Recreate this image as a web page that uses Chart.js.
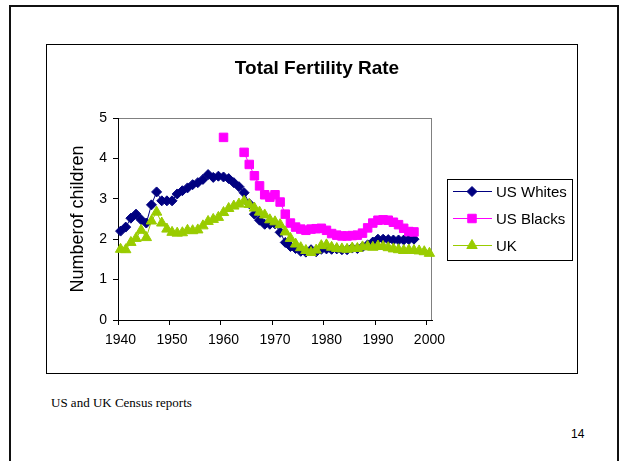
<!DOCTYPE html>
<html>
<head>
<meta charset="utf-8">
<script src="https://cdn.jsdelivr.net/npm/chart.js@4.4.0/dist/chart.umd.min.js"></script>
<style>
  body { margin: 0; width: 620px; height: 461px; background: #fff; position: relative; overflow: hidden; }
  #slide { position: absolute; left: 9px; top: 5px; width: 610px; height: 500px; border: 2px solid #111; box-sizing: border-box; }
  #frame { position: absolute; left: 46px; top: 44px; width: 532px; height: 330px; border: 1px solid #000; box-sizing: border-box; }
  #chart { position: absolute; left: 0; top: 0; }
  #source { position: absolute; left: 51px; top: 395px; font: 13px "Liberation Serif", "Times New Roman", serif; color: #000; }
  #page { position: absolute; left: 571px; top: 427px; font: 12px "Liberation Sans", Arial, sans-serif; color: #000; }
</style>
</head>
<body>
<div id="slide"></div>
<div id="frame"><canvas id="chart" width="530" height="328"></canvas></div>
<div id="source">US and UK Census reports</div>
<div id="page">14</div>

<script>
const years = Array.from({ length: 61 }, (_, i) => 1940 + i);

// values, 1940..2000
const usWhites = [
  2.20, 2.30, 2.52, 2.62, 2.48, 2.40, 2.85, 3.17, 2.95, 2.95,
  2.95, 3.12, 3.20, 3.27, 3.35, 3.40, 3.48, 3.60, 3.53, 3.56,
  3.54, 3.50, 3.40, 3.30, 3.15, 2.88, 2.62, 2.47, 2.37, 2.37,
  2.38, 2.17, 1.92, 1.82, 1.77, 1.70, 1.68, 1.74, 1.69, 1.75,
  1.76, 1.75, 1.76, 1.74, 1.74, 1.78, 1.77, 1.81, 1.86, 1.93,
  2.00, 2.00, 1.99, 1.98, 1.98, 1.98, 1.99, 2.00, null, null,
  null
];

const usBlacks = [
  null, null, null, null, null, null, null, null, null, null,
  null, null, null, null, null, null, null, null, null, null,
  4.52, null, null, null, 4.15, 3.85, 3.57, 3.32, 3.10, 3.04,
  3.10, 2.92, 2.62, 2.40, 2.30, 2.25, 2.22, 2.25, 2.26, 2.27,
  2.22, 2.14, 2.10, 2.08, 2.08, 2.09, 2.10, 2.15, 2.28, 2.40,
  2.47, 2.48, 2.47, 2.42, 2.36, 2.27, 2.19, 2.18, null, null,
  null
];

const uk = [
  1.75, 1.74, 1.92, 2.02, 2.22, 2.04, 2.45, 2.67, 2.40, 2.25,
  2.17, 2.15, 2.16, 2.22, 2.21, 2.23, 2.33, 2.44, 2.49, 2.54,
  2.66, 2.76, 2.82, 2.87, 2.94, 2.86, 2.77, 2.67, 2.60, 2.48,
  2.43, 2.36, 2.18, 2.02, 1.88, 1.79, 1.72, 1.67, 1.73, 1.84,
  1.86, 1.80, 1.77, 1.76, 1.75, 1.78, 1.77, 1.81, 1.82, 1.80,
  1.83, 1.82, 1.79, 1.76, 1.74, 1.72, 1.73, 1.72, 1.71, 1.69,
  1.65
];

const FONT = '"Liberation Sans", Arial, sans-serif';
Chart.defaults.font.family = FONT;
Chart.defaults.color = '#000';

// grey plot frame, title and boxed legend
const decor = {
  id: 'decor',
  beforeDraw(chart) {
    const { ctx, chartArea: a } = chart;
    ctx.save();
    ctx.strokeStyle = '#808080';
    ctx.lineWidth = 1;
    ctx.strokeRect(a.left + 0.5, a.top + 0.5, a.right - a.left - 1, a.bottom - a.top);
    ctx.restore();
  },
  afterDraw(chart) {
    const { ctx, chartArea: a } = chart;
    ctx.save();
    ctx.fillStyle = '#000';
    ctx.font = 'bold 19px ' + FONT;
    ctx.textAlign = 'center';
    ctx.textBaseline = 'middle';
    ctx.fillText('Total Fertility Rate', chart.width / 2 + 5, 23.5);

    const x0 = a.right + 15, y0 = a.top + 61;
    ctx.strokeStyle = '#000';
    ctx.lineWidth = 1;
    ctx.strokeRect(x0 + 0.5, y0 + 0.5, 125, 81);
    ctx.font = '15px ' + FONT;
    ctx.textAlign = 'left';
    chart.data.datasets.forEach((ds, i) => {
      const y = y0 + 12.5 + i * 27;
      ctx.strokeStyle = ds.borderColor;
      ctx.fillStyle = ds.backgroundColor;
      ctx.beginPath();
      ctx.moveTo(x0 + 6, y);
      ctx.lineTo(x0 + 45, y);
      ctx.stroke();
      Chart.helpers.drawPoint(ctx, { pointStyle: ds.pointStyle, radius: ds.pointRadius, borderWidth: 1, rotation: 0 }, x0 + 25, y);
      ctx.fillStyle = '#000';
      ctx.fillText(ds.label, x0 + 49, y + 1);
    });
    ctx.restore();
  }
};

new Chart(document.getElementById('chart'), {
  type: 'line',
  data: {
    labels: years,
    datasets: [
      { label: 'US Whites', data: usWhites, borderColor: '#000080', backgroundColor: '#000080',
        pointStyle: 'rectRot', pointRadius: 5, order: 3 },
      { label: 'US Blacks', data: usBlacks, borderColor: '#FF00FF', backgroundColor: '#FF00FF',
        pointStyle: 'rect', pointRadius: 6, order: 2 },
      { label: 'UK', data: uk, borderColor: '#99CC00', backgroundColor: '#99CC00',
        pointStyle: 'triangle', pointRadius: 6, order: 1 }
    ].map(d => Object.assign({ borderWidth: 1, pointBorderWidth: 1, spanGaps: false, tension: 0, clip: false }, d))
  },
  options: {
    responsive: false,
    animation: false,
    events: [],
    layout: { padding: { left: 0, top: 73, right: 145, bottom: 0 } },
    plugins: { legend: { display: false }, tooltip: { enabled: false }, title: { display: false } },
    scales: {
      x: {
        type: 'category',
        offset: true,
        afterFit: s => { s.height = 53; },
        grid: {
          offset: true,
          drawOnChartArea: false,
          tickLength: 5,
          tickColor: c => (c.index % 10 === 0 ? '#000' : 'rgba(0,0,0,0)')
        },
        border: { color: '#000', width: 1 },
        ticks: {
          autoSkip: false,
          maxRotation: 0,
          padding: 7,
          font: { size: 14 },
          callback: (v, i) => (years[i] % 10 === 0 ? String(years[i]) : '')
        }
      },
      y: {
        min: 0,
        max: 5,
        afterFit: s => { s.width = 71; },
        grid: { drawOnChartArea: false, tickLength: 5, tickColor: '#000' },
        border: { color: '#000', width: 1 },
        ticks: { stepSize: 1, padding: 6, font: { size: 14 } },
        title: { display: true, text: 'Numberof children', font: { size: 18 }, padding: { top: 20, bottom: 0 } }
      }
    }
  },
  plugins: [decor]
});
</script>
</body>
</html>
